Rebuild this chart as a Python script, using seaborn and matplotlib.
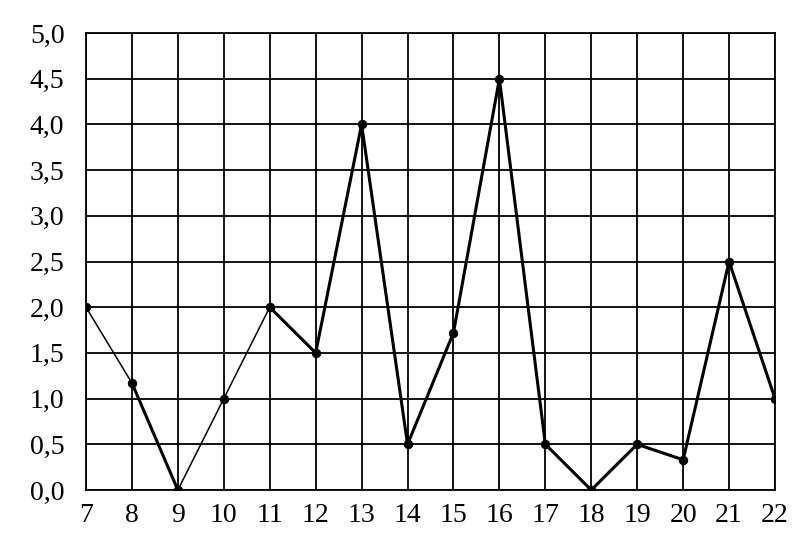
import matplotlib
matplotlib.use("Agg")
import matplotlib.pyplot as plt
import seaborn as sns
import pandas as pd
import numpy as np

hours = [7, 8, 9, 10, 11, 12, 13, 14, 15, 16, 17, 18, 19, 20, 21, 22]
values = [2.0, 1.17, 0.0, 1.0, 2.0, 1.5, 4.0, 0.5, 1.72, 4.5, 0.5, 0.0, 0.5, 0.33, 2.5, 1.0]
y_ticks = [0.0, 0.5, 1.0, 1.5, 2.0, 2.5, 3.0, 3.5, 4.0, 4.5, 5.0]
y_labels = [f"{v:.1f}".replace(".", ",") for v in y_ticks]

df = pd.DataFrame({"hour": hours, "value": values})
# the reference draws the segments around 7 and 10 with a thinner pen
thin_hours = [7, 10]
df["thick"] = np.where(df["hour"].isin(thin_hours), np.nan, df["value"])

sns.set_style("white")
plt.rcParams['font.family'] = ['Liberation Serif', 'DejaVu Serif']

fig = plt.figure(figsize=(8.02, 5.48), dpi=100)
ax = fig.add_axes([86/802, 1 - 490/548, (775-86)/802, (490-33)/548])

sns.lineplot(data=df, x="hour", y="value", ax=ax, color="black", linewidth=1.1,
             marker="o", markersize=6, markeredgecolor="black", zorder=5)
ax.plot(df["hour"], df["thick"], color="black", linewidth=2.2, zorder=6)

ax.set_xlim(7, 22)
ax.set_ylim(0, 5)
ax.set_xticks(hours)
ax.set_xticklabels([str(h) for h in hours])
ax.set_yticks(y_ticks)
ax.set_yticklabels(y_labels)
ax.grid(True, color="black", linewidth=1.3)
for s in ax.spines.values():
    s.set_visible(True)
    s.set_color("black")
    s.set_linewidth(1.3)
ax.tick_params(axis="both", which="both", direction="out", length=5.5, width=1.3,
               color="black", labelsize=20, labelcolor="black")
ax.tick_params(axis="y", pad=10)
ax.tick_params(axis="x", pad=4)
ax.set_xlabel("")
ax.set_ylabel("")

fig.savefig("out.png", dpi=100)
